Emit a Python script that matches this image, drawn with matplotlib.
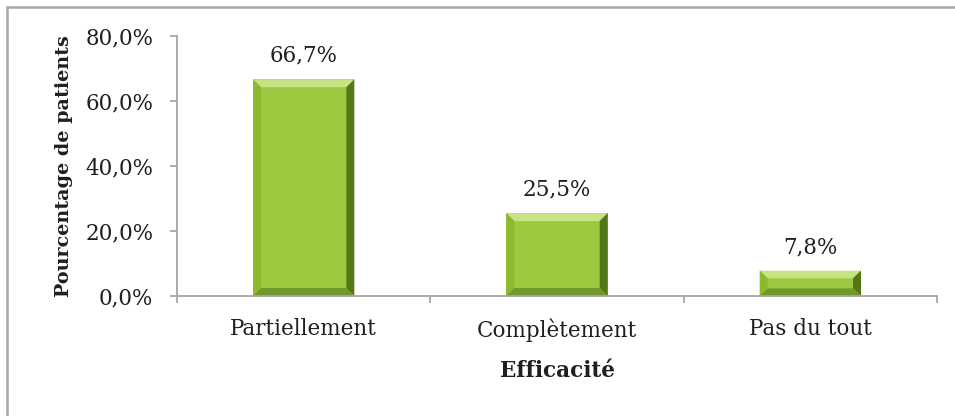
import matplotlib
matplotlib.use("Agg")
import matplotlib.pyplot as plt
from matplotlib.patches import Polygon, Rectangle
from matplotlib.lines import Line2D

# ── Data ──────────────────────────────────────────────────────────────────────
categories = ["Partiellement", "Complètement", "Pas du tout"]
values     = [66.7, 25.5, 7.8]
labels     = ["66,7%", "25,5%", "7,8%"]
yticks     = [0, 20, 40, 60, 80]
ytick_lbls = ["0,0%", "20,0%", "40,0%", "60,0%", "80,0%"]

# ── Style ─────────────────────────────────────────────────────────────────────
FONT      = "DejaVu Serif"
FS        = 15.5
TXT       = "#1f1f1f"
AXIS_COL  = "#A6A6A6"
FACE      = "#9DC940"
TOP_BEV   = "#C8E384"
LEFT_BEV  = "#8CBA2E"
RIGHT_BEV = "#55771A"
BOT_BEV   = "#71982A"
BAR_W     = 0.40
BEVEL_PX  = 8

W, H, DPI = 955, 416, 100
fig = plt.figure(figsize=(W / DPI, H / DPI), dpi=DPI)
fig.patch.set_facecolor("white")

# outer chart border (only top/left edges fall inside the image)
fig.lines.append(Line2D([7 / W, 7 / W, 1.2], [-0.2, 1 - 7 / H, 1 - 7 / H],
                        transform=fig.transFigure, color=AXIS_COL,
                        linewidth=1.8, solid_joinstyle="miter"))

ax = fig.add_axes([177 / W, 1 - 296 / H, (937 - 177) / W, (296 - 36) / H])
ax.set_xlim(-0.5, len(categories) - 0.5)
ax.set_ylim(0, 80)

# pixel → data conversion for bevel size
px_x = len(categories) / (937 - 177)
px_y = 80 / (296 - 36)
bx, by = BEVEL_PX * px_x, BEVEL_PX * px_y

# ── Bevelled bars ─────────────────────────────────────────────────────────────
for i, v in enumerate(values):
    x0, x1 = i - BAR_W / 2, i + BAR_W / 2
    y0, y1 = 0, v
    dy = min(by, v * 0.3)
    ax.add_patch(Rectangle((x0, y0), BAR_W, v, facecolor=FACE, edgecolor="none"))
    # top / left / right / bottom bevels
    ax.add_patch(Polygon([(x0, y1), (x1, y1), (x1 - bx, y1 - dy), (x0 + bx, y1 - dy)],
                         facecolor=TOP_BEV, edgecolor="none"))
    ax.add_patch(Polygon([(x0, y0), (x0, y1), (x0 + bx, y1 - dy), (x0 + bx, y0 + dy)],
                         facecolor=LEFT_BEV, edgecolor="none"))
    ax.add_patch(Polygon([(x1, y0), (x1, y1), (x1 - bx, y1 - dy), (x1 - bx, y0 + dy)],
                         facecolor=RIGHT_BEV, edgecolor="none"))
    ax.add_patch(Polygon([(x0, y0), (x1, y0), (x1 - bx, y0 + dy), (x0 + bx, y0 + dy)],
                         facecolor=BOT_BEV, edgecolor="none"))
    ax.annotate(labels[i], (i, v), xytext=(0, 9), textcoords="offset points",
                ha="center", va="bottom", fontsize=FS, family=FONT, color=TXT)

# ── Axes ──────────────────────────────────────────────────────────────────────
for s in ["top", "right"]:
    ax.spines[s].set_visible(False)
for s in ["left", "bottom"]:
    ax.spines[s].set_color(AXIS_COL)
    ax.spines[s].set_linewidth(1.3)

ax.set_yticks(yticks)
ax.set_yticklabels(ytick_lbls, family=FONT, fontsize=FS, color=TXT)
ax.tick_params(axis="y", length=5, width=1.3, color=AXIS_COL, pad=12)

ax.set_xticks(range(len(categories)))
ax.set_xticklabels(categories, family=FONT, fontsize=FS, color=TXT)
ax.set_xticks([-0.5 + k for k in range(len(categories) + 1)], minor=True)
ax.tick_params(axis="x", which="major", length=0, pad=16)
ax.tick_params(axis="x", which="minor", length=5, width=1.3, color=AXIS_COL)

ax.set_xlabel("Efficacité", family=FONT, fontsize=FS, fontweight="bold",
              color=TXT, labelpad=13)
ax.set_ylabel("Pourcentage de patients", family=FONT, fontsize=13.8,
              fontweight="bold", color=TXT, labelpad=9)

fig.savefig("out.png", dpi=DPI, facecolor="white")
